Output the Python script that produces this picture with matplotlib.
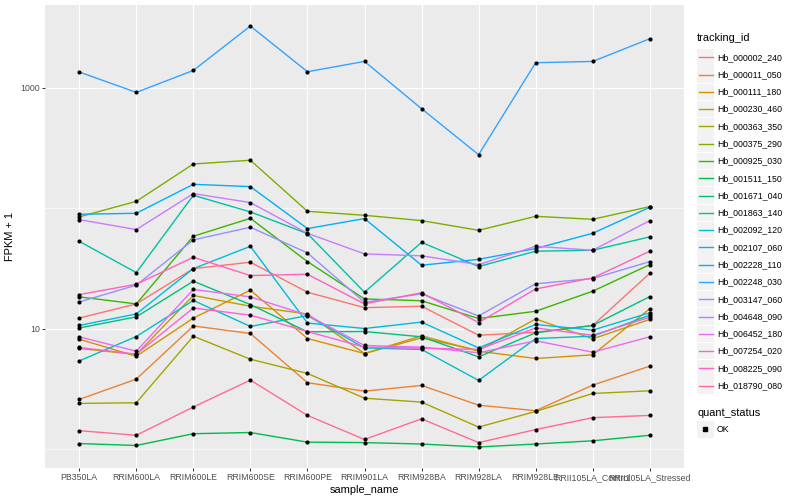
import numpy as np
import matplotlib
matplotlib.use('Agg')
import matplotlib.pyplot as plt
from matplotlib.patches import Rectangle
from matplotlib.lines import Line2D
from matplotlib.ticker import FixedLocator, NullFormatter

plt.rcParams['font.family'] = ['Liberation Sans', 'DejaVu Sans']

samples = ['PB350LA', 'RRIM600LA', 'RRIM600LE', 'RRIM600SE', 'RRIM600PE', 'RRIM901LA',
           'RRIM928BA', 'RRIM928LA', 'RRIM928LE', 'RRII105LA_Control', 'RRII105LA_Stressed']

ids = ['Hb_000002_240', 'Hb_000011_050', 'Hb_000111_180', 'Hb_000230_460', 'Hb_000363_350',
       'Hb_000375_290', 'Hb_000925_030', 'Hb_001511_150', 'Hb_001671_040', 'Hb_001863_140',
       'Hb_002092_120', 'Hb_002107_060', 'Hb_002228_110', 'Hb_002248_030', 'Hb_003147_060',
       'Hb_004648_090', 'Hb_006452_180', 'Hb_007254_020', 'Hb_008225_090', 'Hb_018790_080']

# FPKM + 1, one list per gene, in sample order
hb_000002_240 = [12.2, 16.0, 31.4, 35.5, 20.0, 14.9, 15.3, 8.8, 9.3, 10.6, 28.7]
hb_000011_050 = [2.58, 3.80, 10.5, 9.09, 3.55, 3.02, 3.37, 2.31, 2.08, 3.39, 4.87]
hb_000111_180 = [8.15, 5.89, 12.2, 20.8, 8.26, 6.20, 8.70, 6.48, 5.64, 6.05, 14.6]
hb_000230_460 = [6.83, 6.09, 18.8, 15.3, 13.2, 6.20, 8.37, 6.57, 12.0, 8.21, 11.9]
hb_000363_350 = [2.39, 2.42, 8.63, 5.56, 4.24, 2.64, 2.45, 1.52, 2.05, 2.89, 3.04]
hb_000375_290 = [84.4, 113.6, 232, 249, 93.9, 87.0, 78.6, 65.3, 85.3, 80.6, 102.7]
hb_000925_030 = [18.3, 16.0, 58.3, 82.1, 35.9, 17.6, 17.0, 12.1, 13.9, 20.4, 33.9]
hb_001511_150 = [1.11, 1.07, 1.34, 1.37, 1.14, 1.13, 1.10, 1.04, 1.10, 1.17, 1.30]
hb_001671_040 = [10.1, 12.5, 24.7, 15.8, 9.39, 9.44, 8.53, 5.82, 9.21, 10.6, 18.4]
hb_001863_140 = [52.9, 29.1, 127.5, 92.8, 61.3, 20.0, 51.9, 32.7, 43.8, 44.6, 57.6]
hb_002092_120 = [5.38, 8.58, 17.1, 10.4, 12.8, 6.90, 6.70, 3.71, 8.26, 8.63, 12.9]
hb_002107_060 = [10.6, 13.2, 31.4, 48.1, 11.1, 10.0, 11.3, 6.90, 10.8, 9.70, 13.5]
hb_002228_110 = [88.7, 90.4, 157.2, 150.5, 67.5, 81.7, 33.5, 37.5, 46.1, 61.7, 101.3]
hb_002248_030 = [1345, 911, 1386, 3236, 1352, 1646, 667, 277, 1606, 1646, 2539]
hb_003147_060 = [16.6, 22.9, 54.4, 69.2, 42.4, 16.5, 19.4, 12.7, 23.5, 26.0, 35.9]
hb_004648_090 = [80.1, 66.2, 131.7, 110.9, 61.7, 41.6, 40.1, 33.9, 48.1, 44.6, 78.6]
hb_006452_180 = [8.53, 6.48, 21.1, 18.3, 12.9, 7.23, 7.00, 6.29, 7.91, 6.36, 8.53]
hb_007254_020 = [6.96, 6.12, 14.8, 12.9, 9.44, 7.00, 6.87, 6.70, 10.1, 8.80, 12.4]
hb_008225_090 = [19.1, 23.3, 39.0, 27.5, 28.2, 16.0, 19.8, 11.2, 21.3, 26.3, 43.8]
hb_018790_080 = [1.42, 1.30, 2.23, 3.73, 1.90, 1.20, 1.78, 1.13, 1.45, 1.82, 1.90]

series = [hb_000002_240, hb_000011_050, hb_000111_180, hb_000230_460, hb_000363_350,
          hb_000375_290, hb_000925_030, hb_001511_150, hb_001671_040, hb_001863_140,
          hb_002092_120, hb_002107_060, hb_002228_110, hb_002248_030, hb_003147_060,
          hb_004648_090, hb_006452_180, hb_007254_020, hb_008225_090, hb_018790_080]

# ggplot default hue palette for 20 levels
colors = ['#F8766D', '#EA8331', '#D89000', '#C09B00', '#A3A500', '#7CAE00', '#39B600',
          '#00BB4E', '#00BF7D', '#00C1A3', '#00BFC4', '#00BAE0', '#00B0F6', '#35A2FF',
          '#9590FF', '#C77CFF', '#E76BF3', '#FA62DB', '#FF62BC', '#FF6C91']

W, H = 800, 500
fig = plt.figure(figsize=(W / 100, H / 100), dpi=100)
ax = fig.add_axes([45 / W, 1 - 468 / H, (684 - 45) / W, (468 - 5) / H])
ax.set_facecolor('#EBEBEB')

x = np.arange(1, len(samples) + 1)
for vals, col in zip(series, colors):
    ax.plot(x, vals, color=col, lw=1.0, zorder=2)
for vals in series:
    ax.scatter(x, vals, marker='o', s=9, color='black', lw=0, zorder=3)

ax.set_yscale('log')
allv = np.log10(np.concatenate([np.array(s, float) for s in series]))
lo, hi = allv.min(), allv.max()
pad = 0.05 * (hi - lo)
ax.set_ylim(10 ** (lo - pad), 10 ** (hi + pad))
ax.set_xlim(0.4, len(samples) + 0.6)

ax.yaxis.set_major_locator(FixedLocator([10, 1000]))
ax.set_yticklabels(['10', '1000'])
ax.yaxis.set_minor_locator(FixedLocator([1, 100]))
ax.yaxis.set_minor_formatter(NullFormatter())
ax.set_xticks(x)
ax.set_xticklabels(samples)

ax.set_axisbelow(True)
ax.grid(which='major', color='white', lw=0.8)
ax.grid(which='minor', axis='y', color='white', lw=0.4)
for sp in ax.spines.values():
    sp.set_visible(False)
ax.tick_params(which='major', length=2.2, width=0.7, color='#333333',
               labelsize=6.3, labelcolor='#4D4D4D', pad=1.5)
ax.tick_params(which='minor', length=0)

ax.set_xlabel('sample_name', fontsize=7.9, labelpad=2)
ax.set_ylabel('FPKM + 1', fontsize=7.9, labelpad=4)

# legend, drawn in pixel coords of the figure
def fx(px):
    return px / W

def fy(py):
    return 1 - py / H

fig.text(fx(697), fy(38), 'tracking_id', fontsize=7.9, va='center', ha='left')
step = 17.28
for i, (name, col) in enumerate(zip(ids, colors)):
    yc = 57.3 + i * step
    fig.patches.append(Rectangle((fx(697), fy(yc + 8.2)), 16.5 / W, 16.4 / H,
                                 transform=fig.transFigure, facecolor='#F2F2F2',
                                 edgecolor='none'))
    fig.lines.append(Line2D([fx(699), fx(712.5)], [fy(yc), fy(yc)],
                            transform=fig.transFigure, color=col, lw=1.0))
    fig.text(fx(717), fy(yc), name, fontsize=6.3, va='center', ha='left')

fig.text(fx(697), fy(412.7), 'quant_status', fontsize=7.9, va='center', ha='left')
fig.patches.append(Rectangle((fx(697), fy(429.3 + 8.2)), 16.5 / W, 16.4 / H,
                             transform=fig.transFigure, facecolor='#F2F2F2',
                             edgecolor='none'))
fig.lines.append(Line2D([fx(705.2)], [fy(429.3)], transform=fig.transFigure,
                        marker='s', markersize=2.6, color='black', lw=0))
fig.text(fx(717), fy(429.3), 'OK', fontsize=6.3, va='center', ha='left')

fig.savefig('out.png', dpi=100)
